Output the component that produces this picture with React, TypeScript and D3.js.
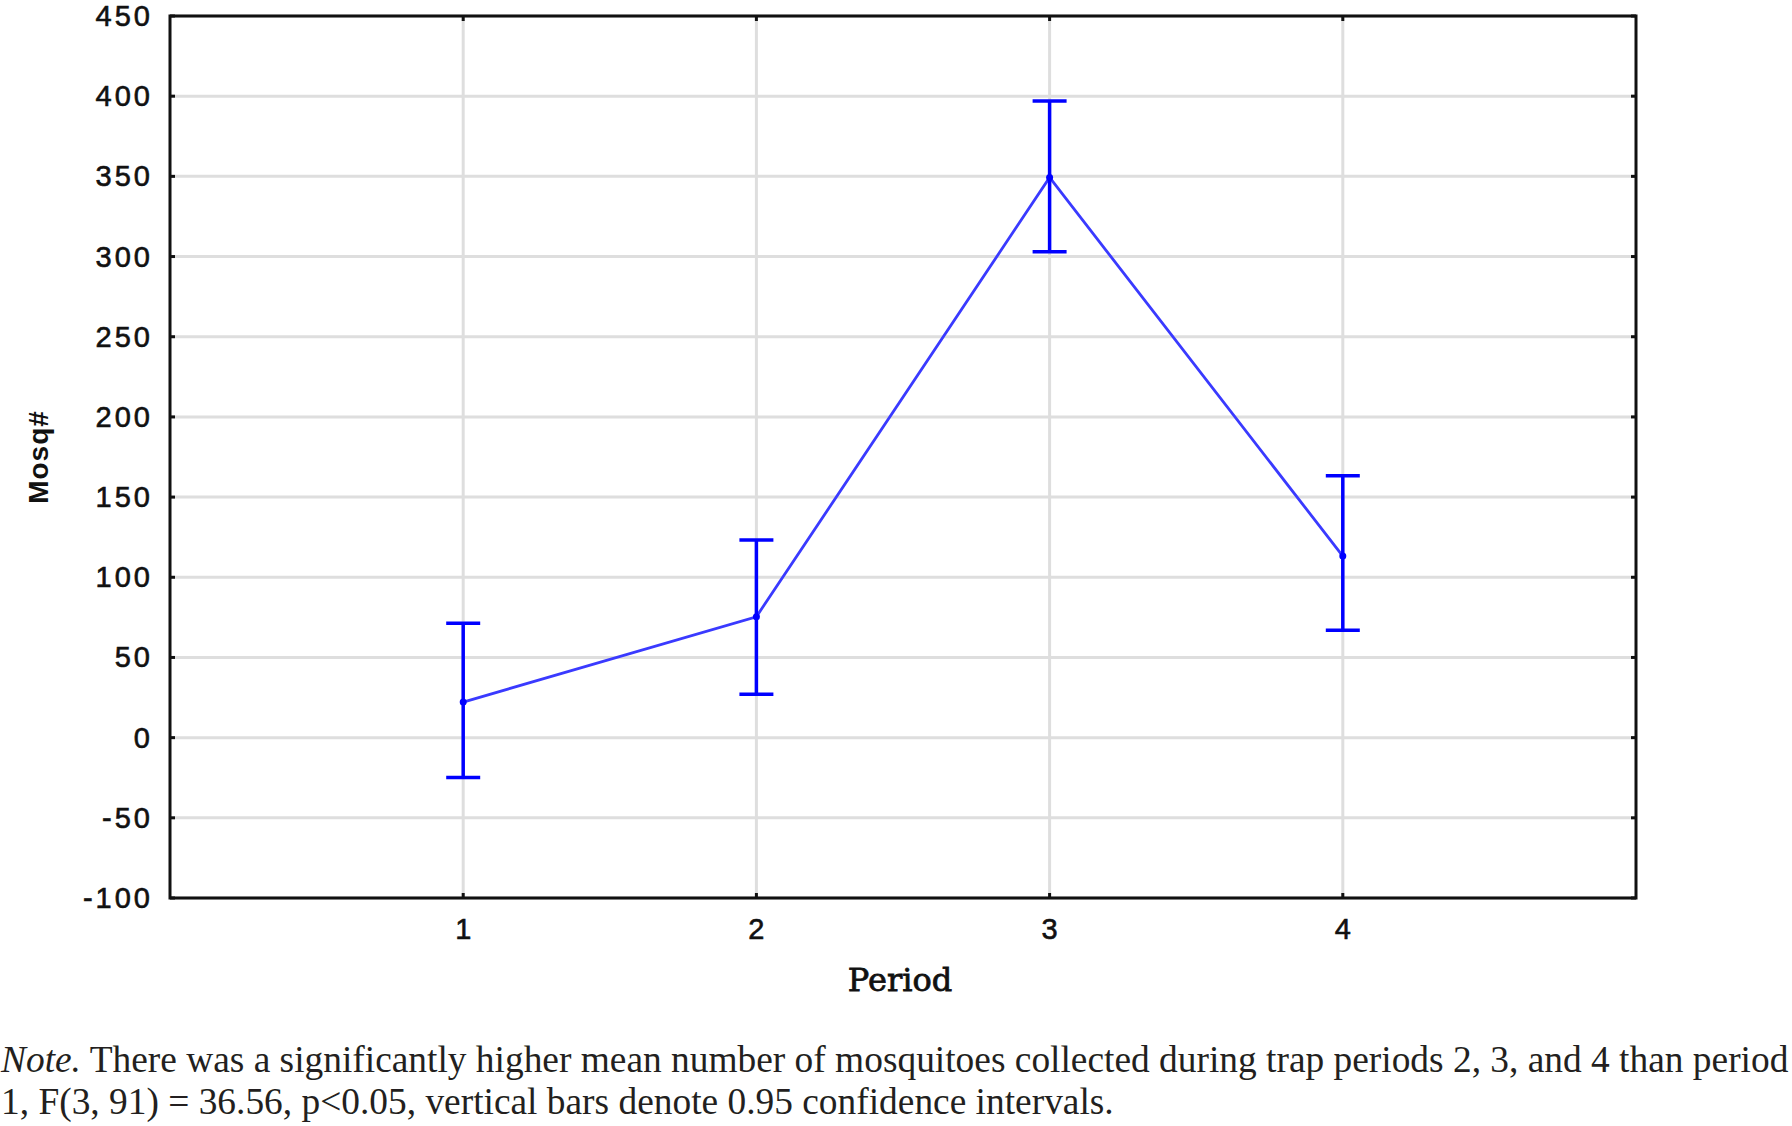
import React from "react";
import * as d3 from "d3";

const periods = [1, 2, 3, 4];
const means = [22.2, 75.4, 349.3, 113.2];
const ciUpper = [71.3, 123.2, 397.0, 163.3];
const ciLower = [-24.8, 27.0, 303.0, 67.0];
const yTicks = [-100, -50, 0, 50, 100, 150, 200, 250, 300, 350, 400, 450];
const xTicks = [1, 2, 3, 4];
const noteLine1 = " There was a significantly higher mean number of mosquitoes collected during trap periods 2, 3, and 4 than period";
const noteLine2 = "1, F(3, 91) = 36.56, p<0.05, vertical bars denote 0.95 confidence intervals.";

const W = 1792;
const H = 1126;
const left = 170, right = 1636, top = 16, bottom = 898;

export default function App() {
  const x = d3.scaleLinear().domain([0, 5]).range([left, right]);
  const y = d3.scaleLinear().domain([-100, 450]).range([bottom, top]);
  const line = d3
    .line<number>()
    .x((_, i) => x(periods[i]))
    .y((d) => y(d));
  const blue = "#0000ff";
  const capW = 17;
  return (
    <div style={{ position: "absolute", left: 0, top: 0, width: W, height: H, background: "#fff" }}>
      <svg width={W} height={H} style={{ display: "block" }}>
        {/* gridlines */}
        {yTicks.map((t) => (
          <line key={"gy" + t} x1={left} x2={right} y1={y(t)} y2={y(t)} stroke="#dedede" strokeWidth={3} />
        ))}
        {xTicks.map((t) => (
          <line key={"gx" + t} x1={x(t)} x2={x(t)} y1={top} y2={bottom} stroke="#dedede" strokeWidth={3} />
        ))}
        {/* frame */}
        <rect x={left} y={top} width={right - left} height={bottom - top} fill="none" stroke="#111" strokeWidth={3} />
        {/* ticks */}
        {yTicks.map((t) => (
          <g key={"ty" + t}>
            <line x1={left} x2={left + 5} y1={y(t)} y2={y(t)} stroke="#111" strokeWidth={3} />
            <line x1={right} x2={right - 5} y1={y(t)} y2={y(t)} stroke="#111" strokeWidth={3} />
            <text
              x={153}
              y={y(t)}
              textAnchor="end"
              dominantBaseline="central"
              fontFamily="'Liberation Sans', Arial, sans-serif"
              fontSize={29}
              letterSpacing={3}
              fill="#111"
              stroke="#111"
              strokeWidth={0.6}
            >
              {t}
            </text>
          </g>
        ))}
        {xTicks.map((t) => (
          <g key={"tx" + t}>
            <line x1={x(t)} x2={x(t)} y1={bottom} y2={bottom - 5} stroke="#111" strokeWidth={3} />
            <line x1={x(t)} x2={x(t)} y1={top} y2={top + 5} stroke="#111" strokeWidth={3} />
            <text
              x={x(t)}
              y={929}
              textAnchor="middle"
              dominantBaseline="central"
              fontFamily="'Liberation Sans', Arial, sans-serif"
              fontSize={29}
              fill="#111"
              stroke="#111"
              strokeWidth={0.6}
            >
              {t}
            </text>
          </g>
        ))}
        {/* axis titles */}
        <text
          x={900}
          y={980}
          textAnchor="middle"
          dominantBaseline="central"
          fontFamily="'DejaVu Serif', serif"
          fontSize={32}
          fill="#111"
          stroke="#111"
          strokeWidth={0.8}
        >
          Period
        </text>
        <text
          transform={`translate(38,457) rotate(-90)`}
          textAnchor="middle"
          dominantBaseline="central"
          fontFamily="'Liberation Sans', Arial, sans-serif"
          fontSize={28}
          fontWeight="bold"
          letterSpacing={1}
          fill="#111"
        >
          Mosq#
        </text>
        {/* connecting line */}
        <path d={line(means) || ""} fill="none" stroke="#3a3aff" strokeWidth={2.8} />
        {/* error bars */}
        {periods.map((p, i) => (
          <g key={"eb" + p}>
            <line x1={x(p)} x2={x(p)} y1={y(ciUpper[i])} y2={y(ciLower[i])} stroke={blue} strokeWidth={3.5} />
            <line x1={x(p) - capW} x2={x(p) + capW} y1={y(ciUpper[i])} y2={y(ciUpper[i])} stroke={blue} strokeWidth={3.5} />
            <line x1={x(p) - capW} x2={x(p) + capW} y1={y(ciLower[i])} y2={y(ciLower[i])} stroke={blue} strokeWidth={3.5} />
            <circle cx={x(p)} cy={y(means[i])} r={3.5} fill={blue} />
          </g>
        ))}
        {/* note */}
        <text x={1} y={1072} fontFamily="'Liberation Serif', 'Times New Roman', serif" fontSize={37.4} fill="#231f20">
          <tspan fontStyle="italic">Note.</tspan>
          <tspan>{noteLine1}</tspan>
        </text>
        <text x={1} y={1114} fontFamily="'Liberation Serif', 'Times New Roman', serif" fontSize={37.4} fill="#231f20">
          {noteLine2}
        </text>
      </svg>
    </div>
  );
}
